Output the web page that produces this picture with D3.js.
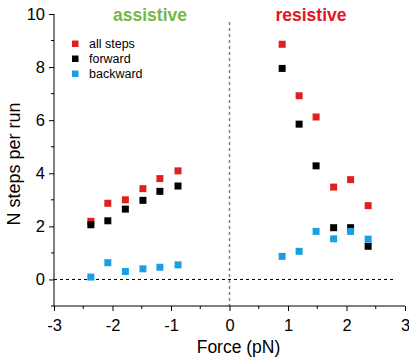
<!DOCTYPE html>
<html>
<head>
<meta charset="utf-8">
<script src="https://cdn.jsdelivr.net/npm/d3@7"></script>
<style>
  body { margin: 0; background: #fff; }
  text { font-family: "Liberation Sans", Arial, sans-serif; }
</style>
</head>
<body>
<div id="chart"></div>
<script>
// Force values (pN)
const forces = [-2.37, -2.08, -1.78, -1.48, -1.19, -0.88, 0.9, 1.19, 1.48, 1.78, 2.07, 2.37];

// Steps per run for each series
const allSteps = [2.19, 2.87, 3.0, 3.42, 3.8, 4.09, 8.86, 6.92, 6.12, 3.48, 3.76, 2.78];
const forward  = [2.06, 2.21, 2.65, 2.98, 3.32, 3.52, 7.95, 5.85, 4.28, 1.95, 1.95, 1.25];
const backward = [0.09, 0.63, 0.30, 0.40, 0.46, 0.55, 0.87, 1.06, 1.81, 1.53, 1.81, 1.52];

const seriesNames = ["all steps", "forward", "backward"];
const seriesColors = ["#e0201f", "#000000", "#1aa0e2"];
const xTicks = [-3, -2, -1, 0, 1, 2, 3];
const yTicks = [0, 2, 4, 6, 8, 10];

const width = 409, height = 362;
const margin = { top: 14, right: 4, bottom: 56, left: 54 };
const innerW = width - margin.left - margin.right;
const innerH = height - margin.top - margin.bottom;

const svg = d3.select("#chart")
    .append("svg")
    .attr("width", width)
    .attr("height", height);

const g = svg.append("g")
    .attr("transform", `translate(${margin.left},${margin.top})`);

const xScale = d3.scaleLinear().domain([-3, 3]).range([0, 351]);
const yScale = d3.scaleLinear().domain([-1, 10]).range([innerH, 0]);

// Reference lines
g.append("line")
    .attr("x1", xScale(0)).attr("x2", xScale(0))
    .attr("y1", yScale(9.7)).attr("y2", innerH)
    .attr("stroke", "#808080")
    .attr("stroke-width", 1.5)
    .attr("stroke-dasharray", "3,3");

g.append("line")
    .attr("x1", xScale(-3)).attr("x2", xScale(2.8))
    .attr("y1", yScale(0)).attr("y2", yScale(0))
    .attr("stroke", "#000")
    .attr("stroke-width", 1)
    .attr("stroke-dasharray", "3,3");

// Axes
const xAxis = d3.axisBottom(xScale).tickValues(xTicks).tickFormat(d => String(d))
    .tickSize(5).tickPadding(8);
const xg = g.append("g")
    .attr("transform", `translate(0,${innerH})`)
    .call(xAxis);
xg.selectAll(".tick line").attr("stroke", "#000");
xg.selectAll("text").style("font-size", "16.5px").attr("fill", "#000");
xg.select(".domain").attr("d", `M0,0H${xScale(3)}`);
xg.selectAll(".minor")
    .data([-2.5, -1.5, -0.5, 0.5, 1.5, 2.5])
    .enter().append("line")
    .attr("x1", d => xScale(d)).attr("x2", d => xScale(d))
    .attr("y1", 0).attr("y2", 3)
    .attr("stroke", "#000");

const yAxis = d3.axisLeft(yScale).tickValues(yTicks).tickFormat(d => String(d))
    .tickSize(5).tickPadding(4);
const yg = g.append("g").call(yAxis);
yg.selectAll("text").style("font-size", "16.5px").attr("fill", "#000");
yg.select(".domain").attr("d", `M0,${yScale(10)}V${innerH}`);
yg.selectAll(".minor")
    .data([-1, 1, 3, 5, 7, 9])
    .enter().append("line")
    .attr("x1", 0).attr("x2", -3)
    .attr("y1", d => yScale(d)).attr("y2", d => yScale(d))
    .attr("stroke", "#000");

// Data points
const seriesData = [allSteps, forward, backward];
const markerSize = 7;
seriesData.forEach((values, i) => {
    g.selectAll(".pt" + i)
        .data(values)
        .enter().append("rect")
        .attr("x", (d, j) => xScale(forces[j]) - markerSize / 2)
        .attr("y", d => yScale(d) - markerSize / 2)
        .attr("width", markerSize)
        .attr("height", markerSize)
        .attr("fill", seriesColors[i]);
});

// Legend
const legend = svg.append("g").attr("transform", "translate(72, 43.5)");
const items = legend.selectAll("g")
    .data(seriesNames)
    .enter().append("g")
    .attr("transform", (d, i) => `translate(0, ${i * 15})`);
items.append("rect")
    .attr("x", 0).attr("y", -3)
    .attr("width", 6.5).attr("height", 6.5)
    .attr("fill", (d, i) => seriesColors[i]);
items.append("text")
    .attr("x", 17).attr("y", 0.5)
    .attr("dy", "0.35em")
    .style("font-size", "12.5px")
    .text(d => d);

// Region labels
svg.append("text")
    .attr("x", 150).attr("y", 21)
    .attr("text-anchor", "middle")
    .style("font-size", "17.5px").style("font-weight", "bold")
    .attr("fill", "#76b843")
    .text("assistive");
svg.append("text")
    .attr("x", 311).attr("y", 21)
    .attr("text-anchor", "middle")
    .style("font-size", "17.5px").style("font-weight", "bold")
    .attr("fill", "#e3161f")
    .text("resistive");

// Axis labels
svg.append("text")
    .attr("transform", "translate(19.5, 164) rotate(-90)")
    .attr("text-anchor", "middle")
    .style("font-size", "18px")
    .text("N steps per run");
svg.append("text")
    .attr("x", 238.5)
    .attr("y", 352.5)
    .attr("text-anchor", "middle")
    .style("font-size", "17.5px")
    .text("Force (pN)");
</script>
</body>
</html>
